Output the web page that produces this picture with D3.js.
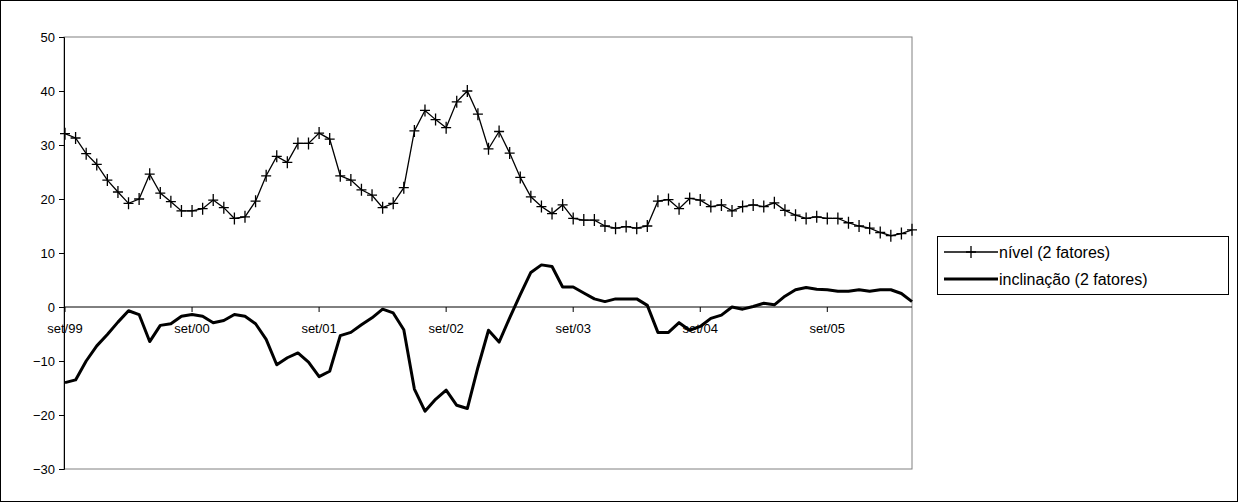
<!DOCTYPE html>
<html>
<head>
<meta charset="utf-8">
<script src="https://cdn.jsdelivr.net/npm/d3@7"></script>
<style>
body { margin: 0; background: #fff; }
text { font-family: "Liberation Sans", Arial, sans-serif; font-size: 13px; fill: #000; }
</style>
</head>
<body>
<script>
// monthly, set/99 .. mai/06
var nivel = [32.1,31.3,28.4,26.4,23.5,21.3,19.2,20.0,24.6,21.1,19.5,17.8,17.8,18.2,19.8,18.4,16.4,16.7,19.6,24.3,
  27.9,26.8,30.3,30.3,32.2,31.1,24.3,23.5,21.7,20.7,18.4,19.2,22.1,32.6,36.4,34.7,33.2,38.0,40.0,35.7,
  29.3,32.5,28.5,24.0,20.4,18.6,17.3,18.9,16.4,16.1,16.1,15.0,14.6,14.9,14.6,15.0,19.6,19.9,18.2,20.1,
  19.8,18.6,18.9,17.8,18.6,18.9,18.6,19.3,17.9,17.0,16.4,16.7,16.4,16.4,15.6,15.0,14.6,13.8,13.2,13.6,14.3];
var inclinacao = [-14.0,-13.5,-10.0,-7.2,-5.1,-2.8,-0.7,-1.4,-6.4,-3.4,-3.1,-1.7,-1.4,-1.7,-2.9,-2.5,-1.4,-1.7,-3.1,-6.0,
  -10.7,-9.4,-8.5,-10.2,-12.9,-11.9,-5.3,-4.7,-3.3,-2.0,-0.4,-1.1,-4.2,-15.2,-19.3,-17.1,-15.4,-18.2,-18.8,-11.2,
  -4.3,-6.5,-2.0,2.3,6.4,7.8,7.5,3.7,3.7,2.6,1.5,1.0,1.5,1.5,1.5,0.3,-4.7,-4.7,-2.9,-4.3,
  -3.6,-2.1,-1.5,0.0,-0.4,0.1,0.7,0.4,2.0,3.2,3.6,3.3,3.2,2.9,2.9,3.2,2.9,3.2,3.2,2.5,1.0];
var tickLabels = ["set/99","set/00","set/01","set/02","set/03","set/04","set/05"];
var yTicks = [-30,-20,-10,0,10,20,30,40,50];
var seriesNames = ["nível (2 fatores)","inclinação (2 fatores)"];

var W = 1238, H = 502;
var svg = d3.select("body").append("svg").attr("width", W).attr("height", H);
svg.append("rect").attr("x",0.5).attr("y",0.5).attr("width",W-1).attr("height",H-1)
  .attr("fill","#fff").attr("stroke","#000");

var L = 64, R = 912, T = 37, B = 469;
var x = d3.scaleLinear().domain([0, nivel.length - 1]).range([L + 1, R]);
var y = d3.scaleLinear().domain([-30, 50]).range([B, T]);

svg.append("rect").attr("x",L).attr("y",T).attr("width",R-L).attr("height",B-T)
  .attr("fill","none").attr("stroke","#808080");

var ya = svg.append("g").attr("transform","translate("+L+",0)")
  .call(d3.axisLeft(y).tickValues(yTicks).tickSize(5).tickPadding(4));
ya.select(".domain").attr("stroke","#000");
ya.selectAll("text").style("font-size","13px");

// category axis at y=0
var xa = svg.append("g").attr("transform","translate(0,"+y(0)+")");
xa.append("line").attr("x1",L).attr("x2",R).attr("stroke","#000");
var tickIdx = tickLabels.map(function(d,i){ return i*12; });
xa.selectAll(".tk").data(tickIdx).enter().append("line")
  .attr("x1",function(d){return x(d);}).attr("x2",function(d){return x(d);})
  .attr("y1",0).attr("y2",5).attr("stroke","#000");
xa.selectAll(".lb").data(tickIdx).enter().append("text")
  .attr("x",function(d){return x(d);}).attr("y",26).attr("text-anchor","middle")
  .text(function(d,i){return tickLabels[i];});

var line = d3.line().x(function(d,i){return x(i);}).y(function(d){return y(d);});
svg.append("path").datum(inclinacao).attr("d",line).attr("fill","none")
  .attr("stroke","#000").attr("stroke-width",3).attr("stroke-linejoin","round");
svg.append("path").datum(nivel).attr("d",line).attr("fill","none")
  .attr("stroke","#000").attr("stroke-width",1.3);
svg.selectAll(".mk").data(nivel).enter().append("path")
  .attr("d",function(d,i){var cx=x(i),cy=y(d);return "M"+(cx-5)+","+cy+"H"+(cx+5)+"M"+cx+","+(cy-6)+"V"+(cy+6);})
  .attr("stroke","#000").attr("stroke-width",1.3);

// legend
var lg = svg.append("g");
lg.append("rect").attr("x",937.5).attr("y",236.5).attr("width",291).attr("height",58)
  .attr("fill","#fff").attr("stroke","#000");
lg.append("line").attr("x1",944).attr("x2",998).attr("y1",252).attr("y2",252).attr("stroke","#000").attr("stroke-width",1.3);
lg.append("path").attr("d","M966,252H976M971,246V258").attr("stroke","#000").attr("stroke-width",1.3);
lg.append("line").attr("x1",944).attr("x2",998).attr("y1",279).attr("y2",279).attr("stroke","#000").attr("stroke-width",3);
lg.append("text").attr("x",999).attr("y",258).style("font-size","16px").text(seriesNames[0]);
lg.append("text").attr("x",999).attr("y",285).style("font-size","16px").text(seriesNames[1]);
</script>
</body>
</html>
